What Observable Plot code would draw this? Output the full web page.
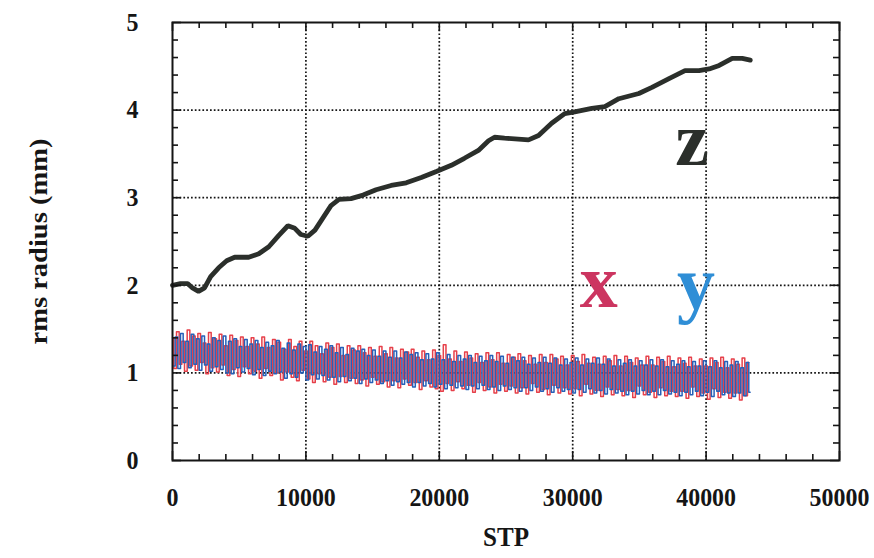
<!DOCTYPE html>
<html>
<head>
<meta charset="utf-8">
<script src="https://cdn.jsdelivr.net/npm/d3@7"></script>
<script src="https://cdn.jsdelivr.net/npm/@observablehq/plot@0.6"></script>
<style>
  html, body { margin: 0; padding: 0; background: #fff; }
</style>
</head>
<body>
<div id="chart"></div>
<script>
// ---- data ----
const zSTP = [0, 600, 1130, 1500, 1950, 2400, 2860, 3460, 4060, 4660, 5710, 6470, 7220, 7970, 8650, 9170, 9620, 10150, 10680, 11280, 11880, 12480, 13380, 14290, 15260, 16390, 17520, 18650, 19780, 20900, 21880, 22930, 23690, 24140, 24890, 26690, 27440, 28420, 29400, 30150, 31430, 32410, 33460, 34960, 35940, 37220, 38420, 39470, 40230, 40980, 41960, 42710, 43310];
const zRMS = [2.00, 2.02, 2.02, 1.97, 1.93, 1.97, 2.10, 2.20, 2.28, 2.32, 2.32, 2.36, 2.44, 2.57, 2.68, 2.65, 2.58, 2.56, 2.63, 2.77, 2.91, 2.98, 2.99, 3.03, 3.09, 3.14, 3.17, 3.23, 3.30, 3.37, 3.45, 3.54, 3.65, 3.69, 3.68, 3.66, 3.71, 3.85, 3.96, 3.98, 4.02, 4.04, 4.13, 4.19, 4.26, 4.36, 4.45, 4.45, 4.47, 4.51, 4.59, 4.59, 4.57];

// x and y are sampled every 200 steps (y offset by 100)
const xSTP = d3.range(0, 43400, 200);
const ySTP = d3.range(100, 43500, 200);
const xRMS = [
  1.40, 1.05, 1.47, 1.10, 1.36, 1.02, 1.49, 1.08, 1.42, 1.03,
  1.45, 1.12, 1.34, 0.99, 1.46, 1.06, 1.39, 1.01, 1.44, 1.09,
  1.31, 0.97, 1.43, 1.04, 1.37, 0.96, 1.41, 1.07, 1.30, 0.99,
  1.40, 1.02, 1.33, 0.94, 1.41, 1.05, 1.29, 0.97, 1.38, 1.00,
  1.35, 0.92, 1.27, 1.01, 1.38, 0.95, 1.30, 0.91, 1.36, 1.03,
  1.25, 0.93, 1.36, 0.89, 1.31, 0.99, 1.22, 0.90, 1.34, 0.95,
  1.29, 0.87, 1.33, 0.96, 1.20, 0.89, 1.31, 0.94, 1.26, 0.88,
  1.31, 0.92, 1.23, 0.85, 1.29, 0.95, 1.19, 0.87, 1.30, 0.90,
  1.22, 0.84, 1.29, 0.91, 1.17, 0.83, 1.27, 0.93, 1.24, 0.86,
  1.27, 0.89, 1.18, 0.81, 1.25, 0.91, 1.15, 0.84, 1.26, 0.82,
  1.20, 0.79, 1.32, 0.88, 1.16, 0.80, 1.25, 0.90, 1.13, 0.82,
  1.24, 0.86, 1.17, 0.78, 1.22, 0.89, 1.12, 0.80, 1.23, 0.84,
  1.15, 0.77, 1.23, 0.87, 1.11, 0.79, 1.21, 0.85, 1.18, 0.77,
  1.22, 0.83, 1.14, 0.76, 1.20, 0.88, 1.10, 0.78, 1.21, 0.81,
  1.12, 0.75, 1.21, 0.86, 1.16, 0.77, 1.19, 0.83, 1.09, 0.76,
  1.20, 0.82, 1.13, 0.74, 1.21, 0.87, 1.11, 0.76, 1.18, 0.80,
  1.10, 0.73, 1.19, 0.84, 1.14, 0.75, 1.20, 0.81, 1.08, 0.74,
  1.19, 0.80, 1.12, 0.72, 1.17, 0.85, 1.09, 0.75, 1.19, 0.78,
  1.09, 0.72, 1.18, 0.83, 1.13, 0.74, 1.19, 0.79, 1.07, 0.73,
  1.17, 0.79, 1.11, 0.71, 1.18, 0.84, 1.08, 0.73, 1.16, 0.77,
  1.08, 0.70, 1.17, 0.82, 1.12, 0.72, 1.18, 0.78, 1.06, 0.71,
  1.16, 0.77, 1.10, 0.69, 1.17, 0.74, 1.12
];
const yRMS = [
  1.08, 1.41, 1.05, 1.45, 1.12, 1.36, 1.06, 1.44, 1.10, 1.39,
  1.03, 1.42, 1.09, 1.33, 1.02, 1.40, 1.07, 1.37, 1.04, 1.42,
  1.00, 1.36, 0.99, 1.39, 1.06, 1.30, 1.01, 1.38, 1.05, 1.33,
  0.98, 1.37, 1.04, 1.29, 0.97, 1.35, 1.02, 1.31, 0.99, 1.37,
  1.01, 1.28, 0.94, 1.34, 0.99, 1.26, 0.95, 1.33, 1.00, 1.30,
  0.92, 1.32, 0.98, 1.24, 0.93, 1.30, 0.97, 1.27, 0.92, 1.31,
  0.95, 1.23, 0.90, 1.29, 0.96, 1.21, 0.91, 1.28, 0.94, 1.25,
  0.88, 1.27, 0.93, 1.20, 0.89, 1.26, 0.92, 1.19, 0.88, 1.25,
  0.91, 1.18, 0.86, 1.25, 0.90, 1.17, 0.87, 1.24, 0.89, 1.21,
  0.84, 1.23, 0.89, 1.15, 0.85, 1.22, 0.88, 1.16, 0.84, 1.23,
  0.87, 1.15, 0.82, 1.21, 0.86, 1.13, 0.83, 1.20, 0.85, 1.16,
  0.81, 1.20, 0.85, 1.12, 0.82, 1.19, 0.86, 1.14, 0.81, 1.20,
  0.84, 1.13, 0.80, 1.19, 0.85, 1.11, 0.81, 1.18, 0.83, 1.14,
  0.79, 1.18, 0.83, 1.10, 0.80, 1.17, 0.84, 1.12, 0.79, 1.18,
  0.82, 1.11, 0.78, 1.17, 0.83, 1.09, 0.79, 1.16, 0.81, 1.12,
  0.77, 1.17, 0.81, 1.09, 0.78, 1.16, 0.82, 1.11, 0.77, 1.17,
  0.80, 1.10, 0.76, 1.16, 0.81, 1.08, 0.77, 1.15, 0.79, 1.11,
  0.75, 1.15, 0.79, 1.08, 0.76, 1.14, 0.80, 1.09, 0.75, 1.15,
  0.79, 1.08, 0.75, 1.15, 0.80, 1.07, 0.76, 1.14, 0.78, 1.10,
  0.74, 1.14, 0.78, 1.07, 0.75, 1.13, 0.79, 1.08, 0.74, 1.14,
  0.78, 1.07, 0.73, 1.14, 0.79, 1.06, 0.75, 1.13, 0.77, 1.09,
  0.73, 1.13, 0.77, 1.06, 0.74, 1.12, 0.78
];

const xMajor = [0, 10000, 20000, 30000, 40000, 50000];
const xMinor = [2000, 4000, 6000, 8000, 12000, 14000, 16000, 18000, 22000, 24000, 26000, 28000, 32000, 34000, 36000, 38000, 42000, 44000, 46000, 48000];
const yMajor = [0, 1, 2, 3, 4, 5];
const yMinor = [0.2, 0.4, 0.6, 0.8, 1.2, 1.4, 1.6, 1.8, 2.2, 2.4, 2.6, 2.8, 3.2, 3.4, 3.6, 3.8, 4.2, 4.4, 4.6, 4.8];

const seriesLabels = [
  {text: "z", stp: 38950, rms: 3.65, color: "#2b2f2b"},
  {text: "x", stp: 31950, rms: 2.03, color: "#cc3560"},
  {text: "y", stp: 39250, rms: 2.01, color: "#2f8ed6"}
];

// ---- layout ----
const W = 874, H = 558;
const mL = 172, mR = 35, mT = 22, mB = 98;
const pw = W - mL - mR, ph = H - mT - mB;
const ink = "#151515";
const font = "'Liberation Serif', 'Times New Roman', serif";

const zData = zSTP.map((s, i) => ({stp: s, rms: zRMS[i]}));
const xData = xSTP.map((s, i) => ({stp: s, rms: xRMS[i]}));
const yData = ySTP.map((s, i) => ({stp: s, rms: yRMS[i]}));

const grid = {stroke: ink, strokeWidth: 1.7, strokeDasharray: "1.7,2.1", strokeOpacity: 1};
const tickStyle = {stroke: ink, strokeWidth: 1.6, strokeOpacity: 1};

const chart = Plot.plot({
  width: W, height: H,
  marginLeft: mL, marginRight: mR, marginTop: mT, marginBottom: mB,
  x: {domain: [0, 50000]},
  y: {domain: [0, 5]},
  style: {fontFamily: font, background: "#fff", color: ink},
  marks: [
    Plot.ruleX(xMajor.slice(1, -1), {x: d => d, ...grid}),
    Plot.ruleY(yMajor.slice(1, -1), {y: d => d, ...grid}),
    Plot.line(xData, {x: "stp", y: "rms", curve: "step", stroke: "#e6404a", strokeWidth: 1.5}),
    Plot.line(yData, {x: "stp", y: "rms", curve: "step", stroke: "#2660b8", strokeWidth: 1.5}),
    Plot.line(zData, {x: "stp", y: "rms", stroke: "#2b2f2b", strokeWidth: 4.8, strokeLinejoin: "miter"}),
    Plot.frame({stroke: ink, strokeWidth: 2}),
    // inward ticks on all four sides
    Plot.tickY(yMinor, {y: d => d, insetRight: pw - 6, ...tickStyle}),
    Plot.tickY(yMinor, {y: d => d, insetLeft: pw - 6, ...tickStyle}),
    Plot.tickY(yMajor, {y: d => d, insetRight: pw - 9, ...tickStyle}),
    Plot.tickY(yMajor, {y: d => d, insetLeft: pw - 9, ...tickStyle}),
    Plot.tickX(xMinor, {x: d => d, insetTop: ph - 6, ...tickStyle}),
    Plot.tickX(xMinor, {x: d => d, insetBottom: ph - 6, ...tickStyle}),
    Plot.tickX(xMajor, {x: d => d, insetTop: ph - 9, ...tickStyle}),
    Plot.tickX(xMajor, {x: d => d, insetBottom: ph - 9, ...tickStyle}),
    Plot.axisX(xMajor, {tickSize: 0, tickPadding: 27, fontSize: 26, fontWeight: "bold", fill: ink, label: null, tickFormat: d => String(d)}),
    Plot.axisY(yMajor, {tickSize: 0, tickPadding: 34, fontSize: 26, fontWeight: "bold", fill: ink, label: null, tickFormat: d => String(d)}),
    Plot.text(["STP"], {frameAnchor: "bottom", dy: 85, text: d => d, fontSize: 28, fontWeight: "bold", fill: ink}),
    Plot.text(["rms radius (mm)"], {frameAnchor: "left", textAnchor: "middle", dx: -134, rotate: -90, text: d => d, fontSize: 25, fontWeight: "bold", fill: ink}),
    Plot.text(seriesLabels, {x: "stp", y: "rms", text: "text", fill: "color", fontSize: 76, fontWeight: "bold", lineAnchor: "middle"})
  ]
});
document.getElementById("chart").appendChild(chart);

// the original lettering is tall and narrow: squeeze glyph widths
chart.querySelectorAll("text").forEach(t => {
  const s = t.textContent;
  let len = null;
  if (/^\d+$/.test(s)) len = t.getComputedTextLength() * 0.92;
  else if (s === "STP") len = 46;
  else if (s === "rms radius (mm)") len = 206;
  if (len) {
    t.setAttribute("textLength", len.toFixed(1));
    t.setAttribute("lengthAdjust", "spacingAndGlyphs");
  }
});
</script>
</body>
</html>
